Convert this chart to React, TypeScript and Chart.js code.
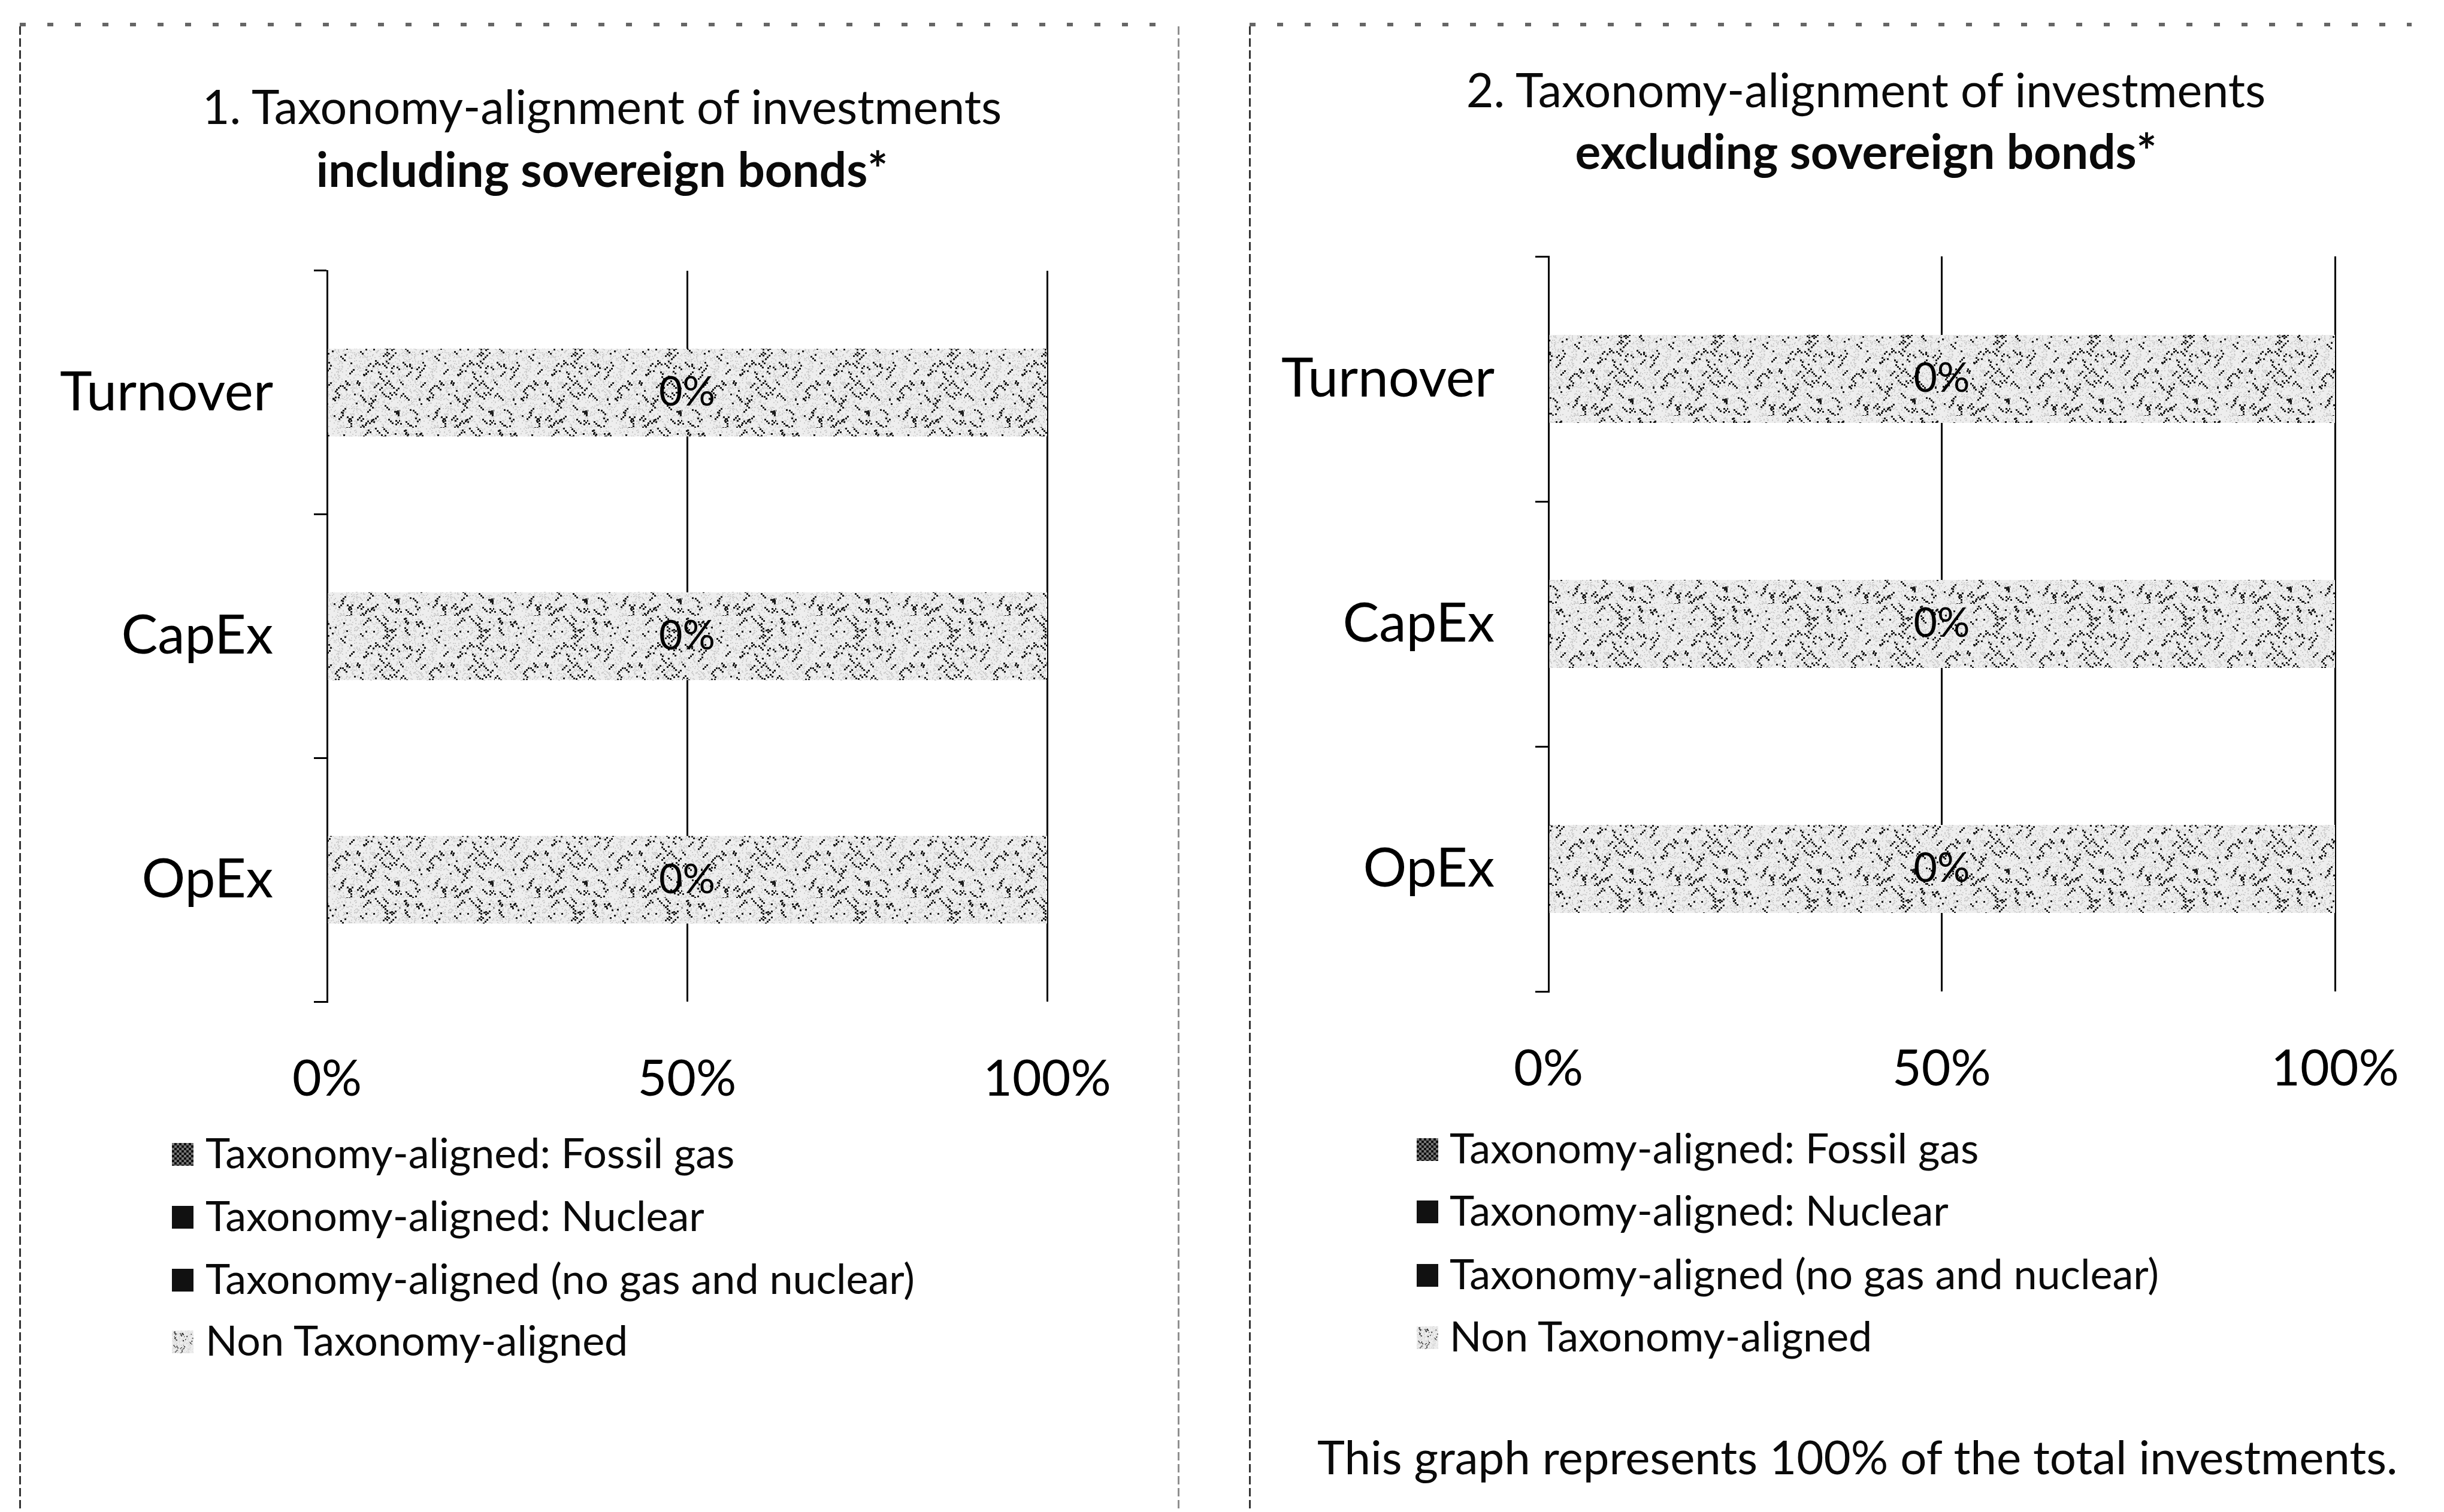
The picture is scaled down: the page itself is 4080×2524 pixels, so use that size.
import React, { useEffect, useRef } from 'react';
import { Chart, registerables } from 'chart.js';

Chart.register(...registerables);

// ---------- data ----------
const categories = ['Turnover', 'CapEx', 'OpEx'];
const seriesNames = [
  'Taxonomy-aligned: Fossil gas',
  'Taxonomy-aligned: Nuclear',
  'Taxonomy-aligned (no gas and nuclear)',
  'Non Taxonomy-aligned',
];
const xTickValues = [0, 50, 100];

// Chart 1: including sovereign bonds (%)
const inclFossilGas = [0, 0, 0];
const inclNuclear = [0, 0, 0];
const inclAlignedOther = [0, 0, 0];
const inclNonAligned = [100, 100, 100];

// Chart 2: excluding sovereign bonds (%)
const exclFossilGas = [0, 0, 0];
const exclNuclear = [0, 0, 0];
const exclAlignedOther = [0, 0, 0];
const exclNonAligned = [100, 100, 100];

const title1 = ['1. Taxonomy-alignment of investments', 'including sovereign bonds*'];
const title2 = ['2. Taxonomy-alignment of investments', 'excluding sovereign bonds*'];
const footnote = 'This graph represents 100% of the total investments.';

const FONT = 'Lato, "Open Sans", "DejaVu Sans", sans-serif';

// ---------- textures ----------
function makeSpeckleCanvas(): HTMLCanvasElement {
  const size = 157;
  const c = document.createElement('canvas');
  c.width = size;
  c.height = size;
  const g = c.getContext('2d')!;
  g.fillStyle = '#eeeeee';
  g.fillRect(0, 0, size, size);
  let s = 987654321;
  const rnd = () => {
    s = (s * 1103515245 + 12345) % 2147483648;
    return s / 2147483648;
  };
  g.fillStyle = '#cfcfcf';
  for (let i = 0; i < 1400; i++) {
    g.fillRect(Math.floor(rnd() * size), Math.floor(rnd() * size), 2, 2);
  }
  g.fillStyle = '#1c1c1c';
  for (let i = 0; i < 140; i++) {
    const x = Math.floor(rnd() * size);
    const y = Math.floor(rnd() * size);
    const dir = rnd() < 0.5 ? 1 : -1;
    const n = 1 + Math.floor(rnd() * 3);
    for (let k = 0; k < n; k++) {
      g.fillRect(x + k * 3 * dir, y + k * 3, 3, 3);
    }
  }
  return c;
}

let speckleTile: HTMLCanvasElement | null = null;
function getSpeckleTile() {
  if (!speckleTile) speckleTile = makeSpeckleCanvas();
  return speckleTile;
}

// ---------- plugin: centre label showing aligned share ----------
const centerLabelPlugin = {
  id: 'centerLabel',
  afterDatasetsDraw(chart: any, _args: any, opts: any) {
    const ctx = chart.ctx;
    const ds = chart.data.datasets;
    const lastMeta = chart.getDatasetMeta(ds.length - 1);
    const firstMeta = chart.getDatasetMeta(0);
    ctx.save();
    ctx.font = `${opts.size}px ${FONT}`;
    ctx.fillStyle = '#000';
    ctx.textAlign = 'center';
    ctx.textBaseline = 'middle';
    lastMeta.data.forEach((el: any, i: number) => {
      let aligned = 0;
      for (let d = 0; d < ds.length - 1; d++) aligned += Number(ds[d].data[i]) || 0;
      const start = firstMeta.data[i].base;
      const cx = (start + el.x) / 2;
      ctx.fillText(`${Math.round(aligned)}%`, cx, el.y);
    });
    ctx.restore();
  },
};

type PanelProps = {
  fossil: number[];
  nuclear: number[];
  other: number[];
  non: number[];
  canvasLeft: number;
  canvasTop: number;
  canvasW: number;
  canvasH: number;
  yAxisW: number;
  xAxisH: number;
  padTop: number;
  padRight: number;
};

function BarPanel(p: PanelProps) {
  const ref = useRef<HTMLCanvasElement>(null);
  useEffect(() => {
    const canvas = ref.current!;
    const ctx = canvas.getContext('2d')!;
    const pattern = ctx.createPattern(getSpeckleTile(), 'repeat')!;
    const chart = new Chart(canvas, {
      type: 'bar',
      data: {
        labels: categories,
        datasets: [
          { label: seriesNames[0], data: p.fossil, backgroundColor: '#333333' },
          { label: seriesNames[1], data: p.nuclear, backgroundColor: '#111111' },
          { label: seriesNames[2], data: p.other, backgroundColor: '#111111' },
          { label: seriesNames[3], data: p.non, backgroundColor: pattern as any },
        ],
      },
      options: {
        indexAxis: 'y',
        responsive: false,
        maintainAspectRatio: false,
        animation: false,
        devicePixelRatio: 1,
        layout: { padding: { top: p.padTop, right: p.padRight, left: 0, bottom: 0 } },
        datasets: { bar: { barPercentage: 0.36, categoryPercentage: 1, borderWidth: 0 } },
        plugins: {
          legend: { display: false },
          tooltip: { enabled: false },
          title: { display: false },
          centerLabel: { size: 68 },
        } as any,
        scales: {
          x: {
            stacked: true,
            min: 0,
            max: 100,
            afterBuildTicks: (scale: any) => {
              scale.ticks = xTickValues.map((v) => ({ value: v }));
            },
            afterFit: (scale: any) => {
              scale.height = p.xAxisH;
              scale.paddingLeft = 0;
              scale.paddingRight = 0;
            },
            grid: { color: '#000', lineWidth: 3, drawTicks: false },
            border: { display: false },
            ticks: {
              color: '#000',
              padding: 80,
              font: { family: FONT, size: 84 },
              callback: (v: any) => `${v}%`,
              maxRotation: 0,
            },
          },
          y: {
            stacked: true,
            afterFit: (scale: any) => {
              scale.width = p.yAxisW;
              scale.paddingTop = 0;
              scale.paddingBottom = 0;
            },
            grid: {
              offset: true,
              drawOnChartArea: false,
              drawTicks: true,
              tickLength: 22,
              color: '#000',
              lineWidth: 3,
            },
            border: { display: true, color: '#000', width: 3 },
            ticks: {
              color: '#000',
              padding: 68,
              font: { family: FONT, size: 91 },
            },
          },
        },
      },
      plugins: [centerLabelPlugin],
    });
    return () => chart.destroy();
  }, []);
  return (
    <canvas
      ref={ref}
      width={p.canvasW}
      height={p.canvasH}
      style={{
        position: 'absolute',
        left: p.canvasLeft,
        top: p.canvasTop,
        width: p.canvasW,
        height: p.canvasH,
      }}
    />
  );
}

function Txt(props: {
  x: number;
  baseline: number;
  size: number;
  bold?: boolean;
  align?: 'left' | 'center';
  children: React.ReactNode;
}) {
  const { x, baseline, size, bold, align = 'left', children } = props;
  const top = baseline - 0.987 * size;
  const style: React.CSSProperties = {
    position: 'absolute',
    top,
    fontFamily: FONT,
    fontSize: size,
    fontWeight: bold ? 700 : 400,
    lineHeight: `${1.2 * size}px`,
    color: '#0a0a0a',
    whiteSpace: 'nowrap',
  };
  if (align === 'center') {
    style.left = x - 1500;
    style.width = 3000;
    style.textAlign = 'center';
  } else {
    style.left = x;
  }
  return <div style={style}>{children}</div>;
}

function Legend(props: { markerX: number; textX: number; baselines: number[]; size: number }) {
  const { markerX, textX, baselines, size } = props;
  const tileUrl = getSpeckleTile().toDataURL();
  const markerStyles: React.CSSProperties[] = [
    {
      background: 'repeating-conic-gradient(#111 0% 25%, #777 0% 50%) 0 0 / 8px 8px',
    },
    { background: '#111' },
    { background: '#111' },
    { backgroundImage: `url(${tileUrl})`, backgroundSize: '80px 80px' },
  ];
  return (
    <>
      {seriesNames.map((name, i) => (
        <React.Fragment key={name}>
          <div
            style={{
              position: 'absolute',
              left: markerX,
              top: baselines[i] - 42,
              width: 36,
              height: 38,
              ...markerStyles[i],
            }}
          />
          <Txt x={textX} baseline={baselines[i]} size={size}>
            {name}
          </Txt>
        </React.Fragment>
      ))}
    </>
  );
}

const dashV: React.CSSProperties = {
  position: 'absolute',
  width: 3,
  backgroundImage: 'repeating-linear-gradient(to bottom, #333 0 14px, transparent 14px 20px)',
};
const dotH: React.CSSProperties = {
  position: 'absolute',
  height: 6,
  backgroundImage: 'repeating-linear-gradient(to right, #666 0 10px, transparent 10px 46px)',
};

export default function App() {
  return (
    <div
      style={{
        position: 'relative',
        width: 4080,
        height: 2524,
        background: '#fff',
        overflow: 'hidden',
      }}
    >
      <style>{'body{margin:0;background:#fff;}'}</style>

      {/* panel frames */}
      <div style={{ ...dotH, left: 33, top: 38, width: 1930 }} />
      <div style={{ ...dashV, left: 32, top: 44, height: 2480 }} />
      <div style={{ ...dashV, left: 1966, top: 44, height: 2480, opacity: 0.55 }} />
      <div style={{ ...dotH, left: 2086, top: 38, width: 1940 }} />
      <div style={{ ...dashV, left: 2085, top: 44, height: 2480 }} />

      {/* left panel */}
      <Txt x={1005} baseline={208} size={79} align="center">
        {title1[0]}
      </Txt>
      <Txt x={1005} baseline={312} size={80} bold align="center">
        {title1[1]}
      </Txt>
      <BarPanel
        fossil={inclFossilGas}
        nuclear={inclNuclear}
        other={inclAlignedOther}
        non={inclNonAligned}
        canvasLeft={40}
        canvasTop={400}
        canvasW={1880}
        canvasH={1500}
        yAxisW={506}
        xAxisH={228}
        padTop={52}
        padRight={172}
      />
      <Legend markerX={287} textX={343} baselines={[1950, 2055, 2160, 2263]} size={70} />

      {/* right panel */}
      <Txt x={3115} baseline={180} size={79} align="center">
        {title2[0]}
      </Txt>
      <Txt x={3115} baseline={282} size={80} bold align="center">
        {title2[1]}
      </Txt>
      <BarPanel
        fossil={exclFossilGas}
        nuclear={exclNuclear}
        other={exclAlignedOther}
        non={exclNonAligned}
        canvasLeft={2100}
        canvasTop={380}
        canvasW={1960}
        canvasH={1500}
        yAxisW={485}
        xAxisH={225}
        padTop={48}
        padRight={162}
      />
      <Legend markerX={2365} textX={2420} baselines={[1942, 2046, 2152, 2256]} size={70} />
      <Txt x={2199} baseline={2462} size={78}>
        {footnote}
      </Txt>
    </div>
  );
}
